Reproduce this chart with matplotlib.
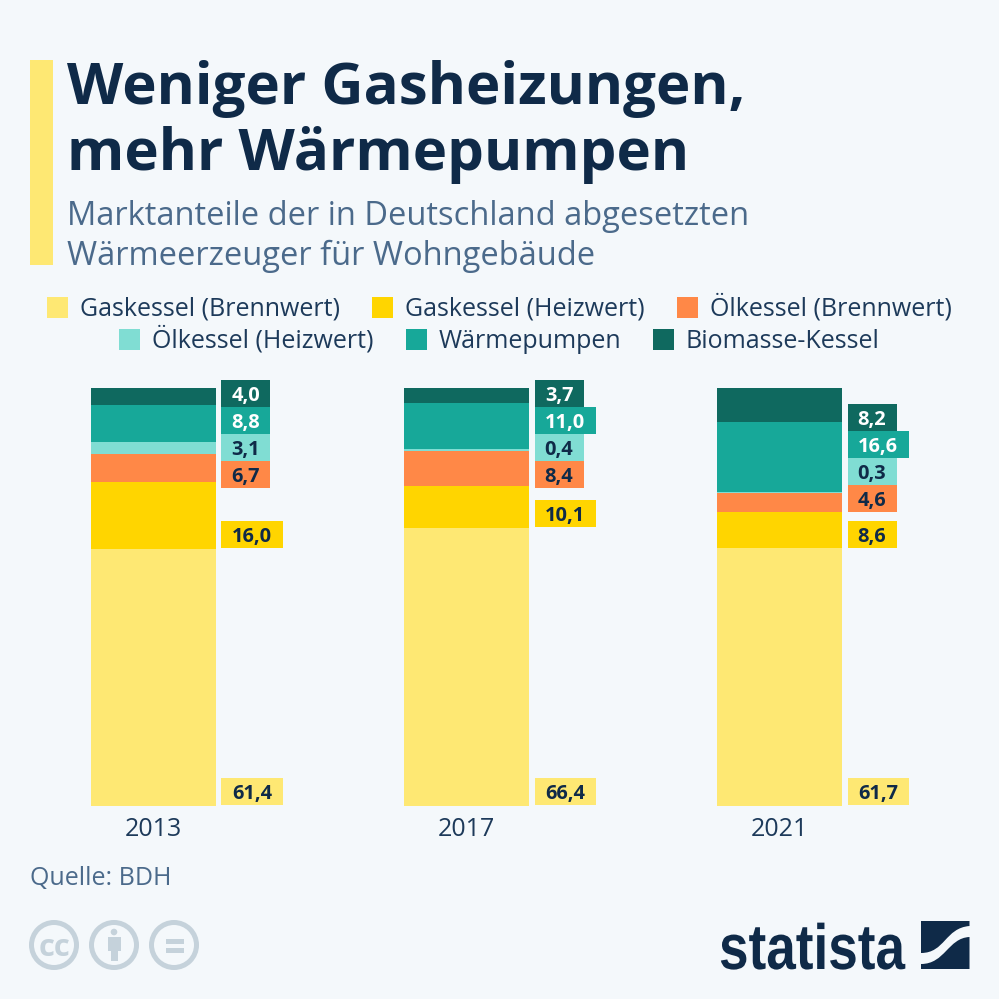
import matplotlib
matplotlib.use("Agg")
import matplotlib.pyplot as plt
from matplotlib.patches import Rectangle, Circle, PathPatch
from matplotlib.path import Path
from matplotlib.patheffects import AbstractPathEffect
from matplotlib.transforms import Affine2D

years = ["2013", "2017", "2021"]
series_names = ["Gaskessel (Brennwert)", "Gaskessel (Heizwert)", "Ölkessel (Brennwert)",
                "Ölkessel (Heizwert)", "Wärmepumpen", "Biomasse-Kessel"]
gas_brennwert = [61.4, 66.4, 61.7]
gas_heizwert = [16.0, 10.1, 8.6]
oel_brennwert = [6.7, 8.4, 4.6]
oel_heizwert = [3.1, 0.4, 0.3]
waermepumpen = [8.8, 11.0, 16.6]
biomasse = [4.0, 3.7, 8.2]
series_values = [gas_brennwert, gas_heizwert, oel_brennwert, oel_heizwert, waermepumpen, biomasse]

colors = ["#FEE873", "#FFD500", "#FF8847", "#80DDD3", "#17A899", "#0F695F"]
text_on = ["#0F2A48", "#0F2A48", "#0F2A48", "#0F2A48", "#FFFFFF", "#FFFFFF"]
# label box bottoms in pixels (layout), one row per series
box_bottoms = [[805, 805, 805], [548, 527, 548], [488, 488, 512],
               [461, 461, 485], [434, 434, 458], [407, 407, 431]]

BG = "#F4F8FB"; NAVY = "#0F2A48"; SLATE = "#4B6A8B"; LEG = "#1D3A5A"; ICON = "#C5D2DB"
FONT = "Open Sans"
px = 0.72  # pt per px at dpi 100


class Squeeze(AbstractPathEffect):
    """Condense a text horizontally around a display x position."""
    def __init__(self, x0, sx):
        super().__init__()
        self.x0, self.sx = x0, sx

    def draw_path(self, renderer, gc, tpath, affine, rgbFace=None):
        t = affine + Affine2D().translate(-self.x0, 0).scale(self.sx, 1).translate(self.x0, 0)
        renderer.draw_path(gc, tpath, t, rgbFace)


fig = plt.figure(figsize=(9.99, 9.99), dpi=100, facecolor=BG)

# chart axes
Y0, Y100 = 806, 388
scale = (Y0 - Y100) / 100
YTOP = 375
ax = fig.add_axes([0, (999 - Y0) / 999, 1, (Y0 - YTOP) / 999])
ax.set_facecolor("none")
spacing = 313
ax.set_xlim(-153.5 / spacing, (999 - 153.5) / spacing)
ax.set_ylim(0, (Y0 - YTOP) / scale)
for s in ax.spines.values():
    s.set_visible(False)
ax.set_yticks([])
xs = list(range(len(years)))
ax.set_xticks(xs, years, fontfamily=FONT, fontsize=25 * px, color=LEG)
ax.tick_params(axis="x", length=0, pad=8)

bw = 125 / spacing
bottom = [0, 0, 0]
for vals, c in zip(series_values, colors):
    ax.bar(xs, vals, bw, bottom=bottom, color=c, linewidth=0)
    bottom = [b + v for b, v in zip(bottom, vals)]

box_h = 27 / scale
for vals, rows, c, tc in zip(series_values, box_bottoms, colors, text_on):
    for x, v, pb in zip(xs, vals, rows):
        label = f"{v:.1f}".replace(".", ",")
        w = (61 if len(label) == 4 else 49) / spacing
        x0 = x + (125 / 2 + 5.5) / spacing
        y0 = (Y0 - pb) / scale
        ax.add_patch(Rectangle((x0, y0), w, box_h, facecolor=c, edgecolor="none", clip_on=False))
        ax.text(x0 + w / 2, y0 + box_h / 2 - 0.1, label, ha="center", va="center_baseline",
                fontfamily=FONT, fontweight="bold", fontsize=20 * px, color=tc)

# overlay in pixel coordinates for page furniture
ov = fig.add_axes([0, 0, 1, 1])
ov.set_xlim(0, 999); ov.set_ylim(999, 0); ov.axis("off"); ov.set_facecolor("none")

ov.add_patch(Rectangle((30, 60), 23, 205, facecolor="#FEE873", edgecolor="none"))
for y, t in [(104, "Weniger Gasheizungen,"), (170, "mehr Wärmepumpen")]:
    ov.text(67, y, t, fontfamily=FONT, fontweight="bold", fontsize=58.3 * px, color=NAVY, va="baseline")
for y, t in [(225, "Marktanteile der in Deutschland abgesetzten"), (265, "Wärmeerzeuger für Wohngebäude")]:
    ov.text(67, y, t, fontfamily=FONT, fontsize=32.7 * px, color=SLATE, va="baseline")

legend_pos = [(47, 316), (372, 316), (677, 316), (119, 348), (406, 348), (653, 348)]
for (x, y), name, c in zip(legend_pos, series_names, colors):
    ov.add_patch(Rectangle((x, y - 19), 21, 21, facecolor=c, edgecolor="none"))
    ov.text(x + 33, y, name, fontfamily=FONT, fontsize=25 * px, color=LEG, va="baseline")

ov.text(30, 885, "Quelle: BDH", fontfamily=FONT, fontsize=25 * px, color=SLATE, va="baseline")

# licence icons
for cx in (54, 114, 174):
    ov.add_patch(Circle((cx, 945), 22.5, facecolor="none", edgecolor=ICON, linewidth=5 * px))
ov.text(54, 945, "cc", fontfamily=FONT, fontweight="bold", fontsize=31 * px, color=ICON,
        ha="center", va="center_baseline")
ov.add_patch(Circle((114, 932), 3.3, facecolor=ICON, edgecolor="none"))
ov.add_patch(Rectangle((107.5, 937), 13, 14, facecolor=ICON, edgecolor="none"))
ov.add_patch(Rectangle((110.5, 950), 7, 11, facecolor=ICON, edgecolor="none"))
ov.add_patch(Rectangle((165.5, 939), 18, 5, facecolor=ICON, edgecolor="none"))
ov.add_patch(Rectangle((165.5, 948), 18, 5, facecolor=ICON, edgecolor="none"))

# statista logo
logo = ov.text(719, 969, "statista", fontfamily=["Liberation Sans", "DejaVu Sans"],
               fontweight="bold", fontsize=64 * px, color=NAVY, va="baseline")
logo.set_path_effects([Squeeze(719, 0.83)])
up = Path([(921, 921), (969.5, 921), (969.5, 926), (945, 928), (945, 953), (921, 953), (921, 921)],
          [Path.MOVETO, Path.LINETO, Path.LINETO, Path.CURVE4, Path.CURVE4, Path.CURVE4, Path.CLOSEPOLY])
lo = Path([(969.5, 937), (969.5, 969), (921, 969), (921, 964), (945, 964), (948, 938), (969.5, 937), (969.5, 937)],
          [Path.MOVETO, Path.LINETO, Path.LINETO, Path.LINETO, Path.CURVE4, Path.CURVE4, Path.CURVE4, Path.CLOSEPOLY])
ov.add_patch(PathPatch(up, facecolor=NAVY, edgecolor="none"))
ov.add_patch(PathPatch(lo, facecolor=NAVY, edgecolor="none"))

fig.savefig("out.png", dpi=100, facecolor=BG)
